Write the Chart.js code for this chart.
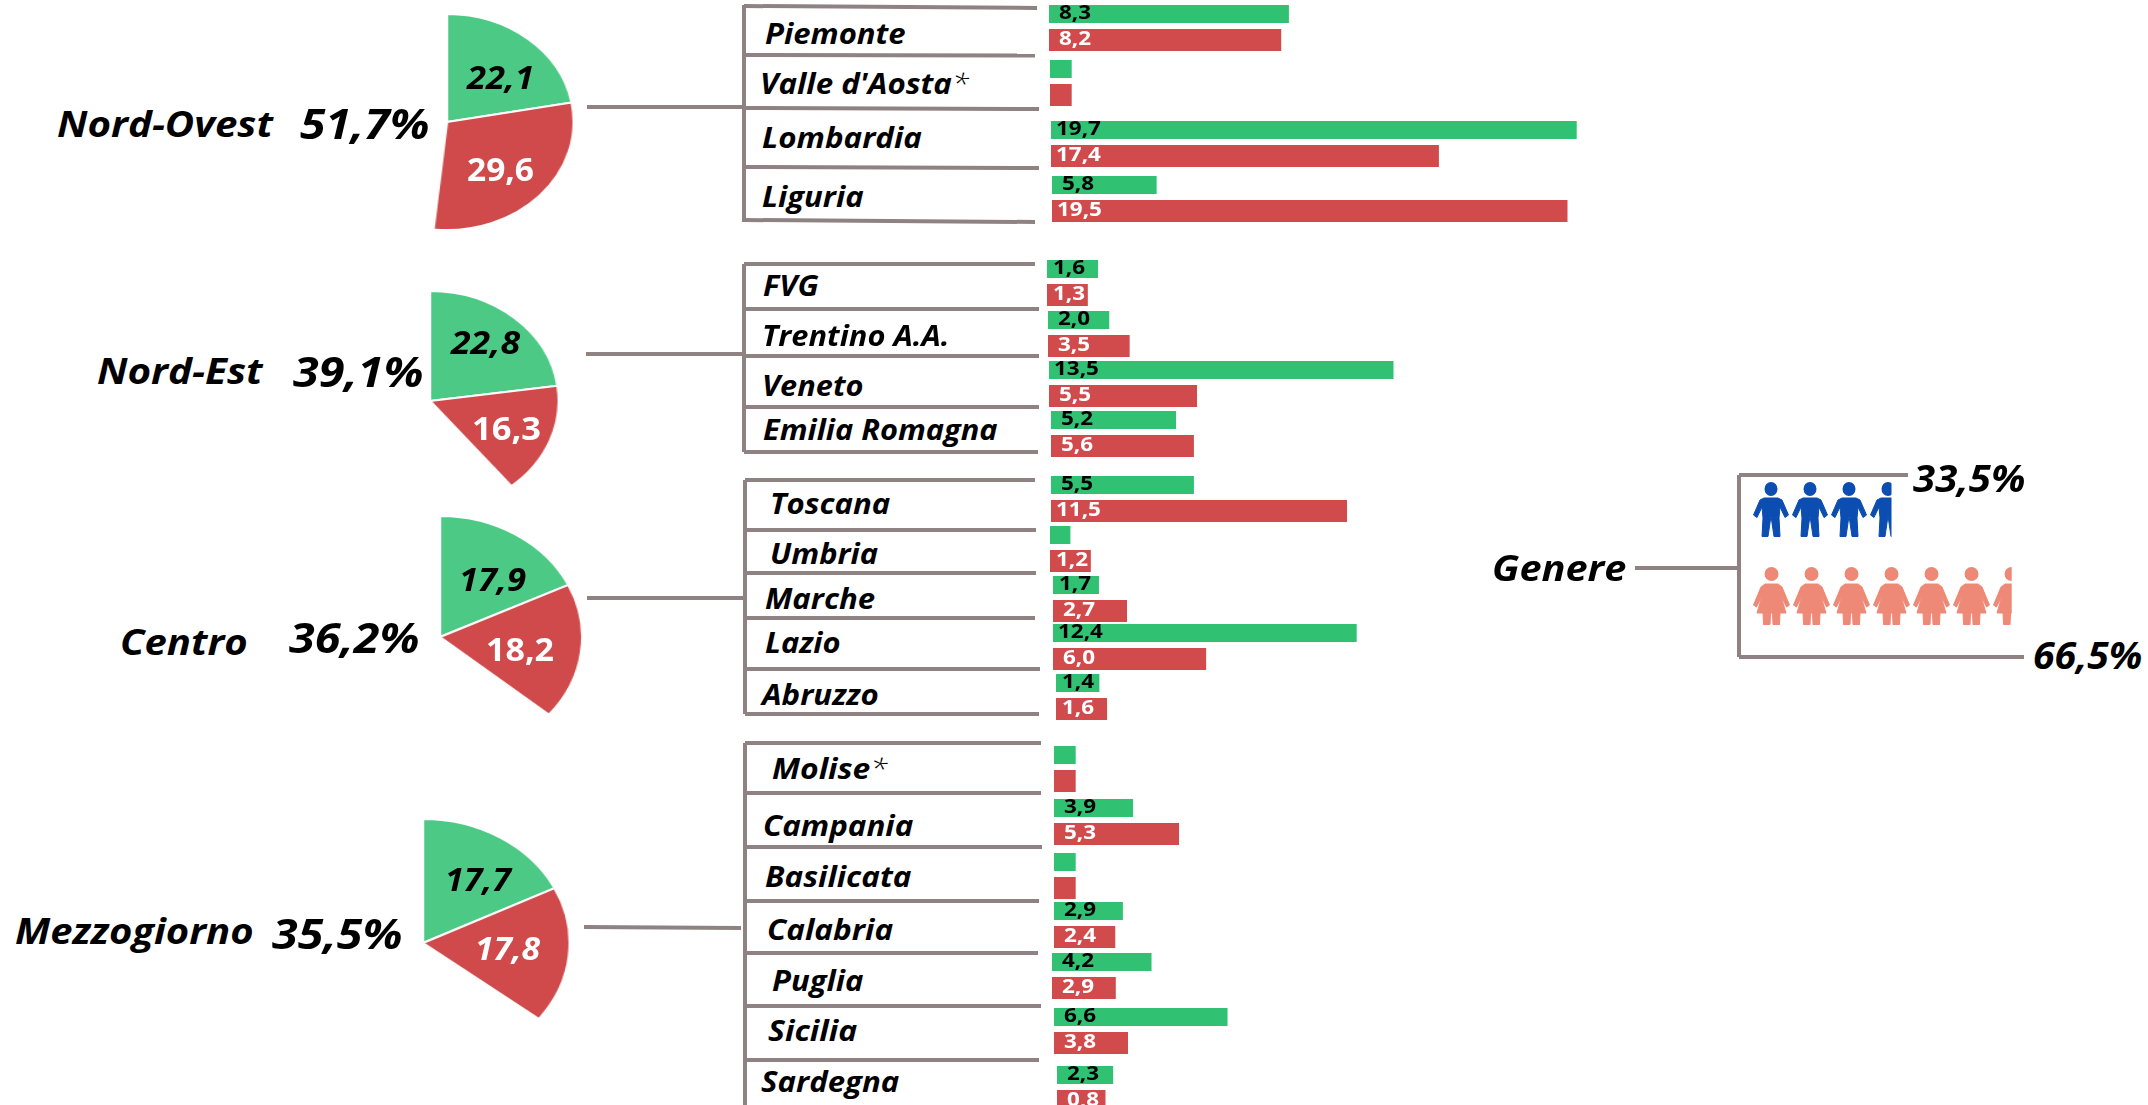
<!DOCTYPE html>
<html lang="it">
<head>
<meta charset="utf-8">
<title>Distribuzione per area, regione e genere</title>
<script src="https://cdn.jsdelivr.net/npm/chart.js@4"></script>
<style>
    html, body { margin: 0; padding: 0; background: #fff; width: 2148px; height: 1105px; overflow: hidden; }
    canvas, svg, .testo { position: absolute; }
    .testo { font-family: "Open Sans", sans-serif; font-weight: 700; font-style: italic; color: #000; white-space: nowrap; line-height: 1; transform-origin: left center; }
    .testo span { font-weight: 300; }
</style>
</head>
<body>
<script>
// Macro aree (torte)
const macroAree = ['Nord-Ovest', 'Nord-Est', 'Centro', 'Mezzogiorno'];
const totaliAree = ['51,7%', '39,1%', '36,2%', '35,5%'];
const verdeAree = [22.1, 22.8, 17.9, 17.7];
const rossoAree = [29.6, 16.3, 18.2, 17.8];

// Regioni (barre)
const regioni = ['Piemonte', "Valle d'Aosta", 'Lombardia', 'Liguria',
    'FVG', 'Trentino A.A.', 'Veneto', 'Emilia Romagna',
    'Toscana', 'Umbria', 'Marche', 'Lazio', 'Abruzzo',
    'Molise', 'Campania', 'Basilicata', 'Calabria', 'Puglia', 'Sicilia', 'Sardegna'];
const conAsterisco = ["Valle d'Aosta", 'Molise'];

// numeri stampati sulle barre (vuoto = dato non riportato)
const stampatiVerde = ['8,3', '', '19,7', '5,8', '1,6', '2,0', '13,5', '5,2', '5,5', '', '1,7', '12,4', '1,4', '', '3,9', '', '2,9', '4,2', '6,6', '2,3'];
const stampatiRosso = ['8,2', '', '17,4', '19,5', '1,3', '3,5', '5,5', '5,6', '11,5', '1,2', '2,7', '6,0', '1,6', '', '5,3', '', '2,4', '2,9', '3,8', '0,8'];

// lunghezza delle barre: nell'originale non sono in scala esatta coi numeri stampati
const barreVerde = [9.4, 0.85, 20.6, 4.1, 2.0, 2.4, 13.5, 4.9, 5.6, 0.8, 1.8, 11.9, 1.7, 0.85, 3.1, 0.85, 2.7, 3.9, 6.8, 2.2];
const barreRosso = [9.1, 0.85, 15.2, 20.2, 1.6, 3.2, 5.8, 5.6, 11.6, 1.6, 2.9, 6.0, 2.0, 0.85, 4.9, 0.85, 2.4, 2.5, 2.9, 1.9];

// Genere (pittogrammi)
const generi = ['Uomini', 'Donne'];
const quoteGenere = [33.5, 66.5];

// ---- impaginazione ----
const COL_VERDE_TORTA = '#4cc985', COL_ROSSO_TORTA = '#d04a4b';
const COL_VERDE_BARRA = '#30c173', COL_ROSSO_BARRA = '#d14b4d';
const COL_LINEA = '#8f8282', COL_UOMO = '#0b4db0', COL_DONNA = '#ee8977';

const torte = [
    { cx: 447, cy: 122, rx: 125.5, ry: 107 },
    { cx: 430, cy: 401, rx: 127.5, ry: 109 },
    { cx: 440, cy: 637, rx: 141, ry: 120 },
    { cx: 423, cy: 943, rx: 145.5, ry: 123 }
];
// [sinistra, destra, centro y]
const posAree = [[57, 273, 123], [97, 263, 370], [120, 248, 641], [15, 254, 930]];
const posTotali = [[300, 430, 123], [293, 424, 371], [289, 420, 637], [272, 403, 933]];
const posVerde = [[467, 534, 76], [451, 520, 341], [459, 526, 578], [445, 511, 878]];
const posRosso = [[467, 534, 168], [472, 541, 427], [486, 554, 648], [475, 540, 947]];
const italicoRosso = [false, false, false, true];

const posRegioni = [[765, 906, 32], [760, 969, 82], [762, 922, 136], [762, 864, 195],
    [763, 819, 284], [762, 950, 334], [762, 864, 384], [763, 997, 428],
    [770, 890, 502], [770, 878, 552], [765, 875, 597], [765, 841, 641], [762, 879, 693],
    [772, 888, 767], [763, 913, 824], [765, 911, 875], [767, 893, 928], [772, 863, 979], [768, 857, 1029], [761, 899, 1080]];
const cimaRiga = [5, 60, 121, 176, 260, 311, 361, 411, 476, 526, 576, 624, 674, 746, 799, 853, 902, 953, 1008, 1066];
const inizioRiga = [1049, 1050, 1050.5, 1052, 1047, 1048, 1048.5, 1051, 1051, 1050, 1052.5, 1053, 1055.5, 1054, 1054, 1054, 1054, 1052, 1054, 1056.5];

const connettori = [
    [587, 107, 744, 107], [744, 5, 744, 222], [744, 6, 1037, 8], [744, 55, 1035, 55.5], [744, 108, 1039, 109], [744, 167, 1039, 168], [744, 220, 1035, 222],
    [586, 354, 744, 354], [744, 264, 744, 452], [744, 264, 1035, 264], [744, 309, 1039, 309], [744, 356, 1039, 356], [744, 407, 1039, 407], [744, 452, 1038, 452],
    [587, 598, 745, 598], [745, 480, 745, 714], [745, 480, 1035, 480], [745, 530, 1036, 530], [745, 573, 1036, 573], [745, 618, 1035, 618], [745, 669, 1040, 669], [745, 714, 1039, 714],
    [584, 927, 741, 928], [745, 743, 745, 1105], [745, 743, 1041, 743], [745, 793, 1041, 793], [745, 847, 1042, 847], [745, 901, 1039, 901], [745, 953, 1038, 953], [745, 1006, 1041, 1006], [745, 1060, 1039, 1060],
    [1635, 568, 1739, 568], [1739, 475, 1739, 657], [1739, 475, 1908, 475], [1739, 657, 2024, 657]
];

Chart.defaults.animation = false;
Chart.defaults.plugins.legend.display = false;
Chart.defaults.plugins.tooltip.enabled = false;

function nuovaTela(x, y, w, h) {
    const c = document.createElement('canvas');
    c.width = w;
    c.height = h;
    c.style.left = x + 'px';
    c.style.top = y + 'px';
    document.body.appendChild(c);
    return c;
}

// testo reale adattato alla larghezza che ha nell'originale (li' e' stirato in orizzontale)
function testo(str, pos, size, opts) {
    opts = opts || {};
    const d = document.createElement('div');
    d.className = 'testo';
    d.textContent = str;
    if (opts.asterisco) {
        const s = document.createElement('span');
        s.textContent = '*';
        d.appendChild(s);
    }
    d.style.fontSize = size + 'px';
    d.style.left = pos[0] + 'px';
    d.style.top = (pos[2] - size * 0.48) + 'px';
    if (opts.colore) d.style.color = opts.colore;
    if (opts.dritto) d.style.fontStyle = 'normal';
    document.body.appendChild(d);
    d.style.transform = 'scaleX(' + ((pos[1] - pos[0]) / d.offsetWidth) + ')';
}

// ---- linee di collegamento ----
const svg = document.createElementNS('http://www.w3.org/2000/svg', 'svg');
svg.setAttribute('width', 2148);
svg.setAttribute('height', 1105);
svg.style.left = 0;
svg.style.top = 0;
connettori.forEach(function (s) {
    const l = document.createElementNS('http://www.w3.org/2000/svg', 'line');
    l.setAttribute('x1', s[0]);
    l.setAttribute('y1', s[1]);
    l.setAttribute('x2', s[2]);
    l.setAttribute('y2', s[3]);
    l.setAttribute('stroke', COL_LINEA);
    l.setAttribute('stroke-width', 4);
    svg.appendChild(l);
});
document.body.appendChild(svg);

// ---- torte: il resto a 100 e' trasparente, l'ellisse si ottiene stirando la tela ----
macroAree.forEach(function (area, i) {
    const t = torte[i];
    const lato = 2 * t.ry + 4;
    const c = nuovaTela(t.cx - lato / 2, t.cy - lato / 2, lato, lato);
    new Chart(c.getContext('2d'), {
        type: 'pie',
        data: {
            labels: ['verde', 'rosso', 'resto'],
            datasets: [{
                label: area,
                data: [verdeAree[i], rossoAree[i], 100 - verdeAree[i] - rossoAree[i]],
                backgroundColor: [COL_VERDE_TORTA, COL_ROSSO_TORTA, 'rgba(0,0,0,0)'],
                borderColor: ['#fff', '#fff', 'rgba(0,0,0,0)'],
                borderWidth: [2, 2, 0],
                hoverOffset: 0
            }]
        },
        options: { responsive: false, layout: { padding: 0 } }
    });
    c.style.transform = 'scaleX(' + (t.rx / t.ry) + ')';
});

// ---- barre: un grafico per riga, le righe nell'originale sono posate a mano ----
const UNITA_PX = 25.5;
const MAX_ASSE = 25;

const etichetteBarre = {
    id: 'etichetteBarre',
    afterDatasetsDraw: function (chart) {
        const ctx = chart.ctx;
        chart.data.datasets.forEach(function (ds, k) {
            const bar = chart.getDatasetMeta(k).data[k];    // verde sulla prima categoria, rosso sulla seconda
            const txt = ds.stampati[k];
            if (!txt) return;
            let scarto = 10;
            if (txt.length > 3) scarto = 5;
            else if (txt.charAt(0) === '1') scarto = 6;
            ctx.save();
            ctx.translate(bar.base + scarto, bar.y - 0.5);
            ctx.scale(1.18, 1);
            ctx.font = 'bold 19px "Open Sans"';
            ctx.fillStyle = ds.coloreTesto;
            ctx.textBaseline = 'middle';
            ctx.fillText(txt, 0, 0);
            ctx.restore();
        });
    }
};

regioni.forEach(function (regione, i) {
    const c = nuovaTela(inizioRiga[i], cimaRiga[i] - 4, Math.round(UNITA_PX * MAX_ASSE), 52);
    new Chart(c.getContext('2d'), {
        type: 'bar',
        data: {
            labels: [regione + ' verde', regione + ' rosso'],
            datasets: [{
                data: [barreVerde[i], null],
                stampati: [stampatiVerde[i], ''],
                coloreTesto: '#000',
                backgroundColor: COL_VERDE_BARRA,
                barPercentage: 18 / 26,
                categoryPercentage: 1
            }, {
                data: [null, barreRosso[i]],
                stampati: ['', stampatiRosso[i]],
                coloreTesto: '#fff',
                backgroundColor: COL_ROSSO_BARRA,
                barPercentage: 22 / 26,
                categoryPercentage: 1
            }]
        },
        options: {
            responsive: false,
            indexAxis: 'y',
            scales: {
                x: { display: false, stacked: true, min: 0, max: MAX_ASSE },
                y: { display: false, stacked: true }
            }
        },
        plugins: [etichetteBarre]
    });
});

// ---- pittogrammi: barra riempita con un motivo a omini, il motivo si taglia a fine barra ----
function sagoma(g, punti) {
    g.beginPath();
    punti.forEach(function (p) { g.lineTo(p[0], p[1]); });
    g.closePath();
    g.fill();
    g.stroke();
}

function disegnaUomo(g) {
    g.beginPath();
    g.ellipse(18, 7, 6.5, 7, 0, 0, Math.PI * 2);
    g.fill();
    sagoma(g, [[11, 16], [25, 16], [29, 18], [35.5, 33], [32, 35.5], [27, 25], [26, 36], [27, 54.5], [21, 54.5], [18, 34], [15, 54.5], [9, 54.5], [10, 36], [9, 25], [4, 35.5], [0.5, 33], [7, 18]]);
}

function disegnaDonna(g) {
    g.beginPath();
    g.ellipse(18.5, 7, 7, 7, 0, 0, Math.PI * 2);
    g.fill();
    sagoma(g, [[12, 17], [25, 17], [29, 20], [36.5, 38], [33.5, 40], [28, 29], [33, 46], [27, 46], [26.5, 57.5], [20, 57.5], [19.5, 46], [17.5, 46], [17, 57.5], [10.5, 57.5], [10, 46], [4, 46], [9, 29], [3.5, 40], [0.5, 38], [8, 20]]);
}

function pittogramma(nome, valore, maxAsse, pxUnita, passo, x, y, h, colore, disegna) {
    const w = Math.round(maxAsse * pxUnita);
    const c = nuovaTela(x, y, w, h);
    const ctx = c.getContext('2d');
    const tessera = document.createElement('canvas');
    tessera.width = passo;
    tessera.height = h;
    const g = tessera.getContext('2d');
    g.fillStyle = colore;
    g.strokeStyle = colore;
    g.lineWidth = 1;
    g.lineJoin = 'round';
    disegna(g);
    new Chart(ctx, {
        type: 'bar',
        data: {
            labels: [nome],
            datasets: [{
                data: [valore],
                backgroundColor: ctx.createPattern(tessera, 'repeat-x'),
                barPercentage: 1,
                categoryPercentage: 1
            }]
        },
        options: {
            responsive: false,
            indexAxis: 'y',
            scales: {
                x: { display: false, min: 0, max: maxAsse },
                y: { display: false }
            }
        }
    });
}

pittogramma(generi[0], quoteGenere[0], 40, 4.12, 39, 1753, 482, 55, COL_UOMO, disegnaUomo);
pittogramma(generi[1], quoteGenere[1], 70, 3.88, 40, 1753, 567, 58, COL_DONNA, disegnaDonna);

// ---- testi ----
macroAree.forEach(function (area, i) {
    testo(area, posAree[i], 36);
    testo(totaliAree[i], posTotali[i], 41);
    testo(verdeAree[i].toFixed(1).replace('.', ','), posVerde[i], 32);
    testo(rossoAree[i].toFixed(1).replace('.', ','), posRosso[i], 32, { colore: '#fff', dritto: !italicoRosso[i] });
});

regioni.forEach(function (regione, i) {
    testo(regione, posRegioni[i], 28, { asterisco: conAsterisco.indexOf(regione) >= 0 });
});

testo('Genere', [1492, 1627, 567], 35);
testo(quoteGenere[0].toFixed(1).replace('.', ',') + '%', [1913, 2025, 477], 37);
testo(quoteGenere[1].toFixed(1).replace('.', ',') + '%', [2033, 2142, 654], 37);
</script>
</body>
</html>
